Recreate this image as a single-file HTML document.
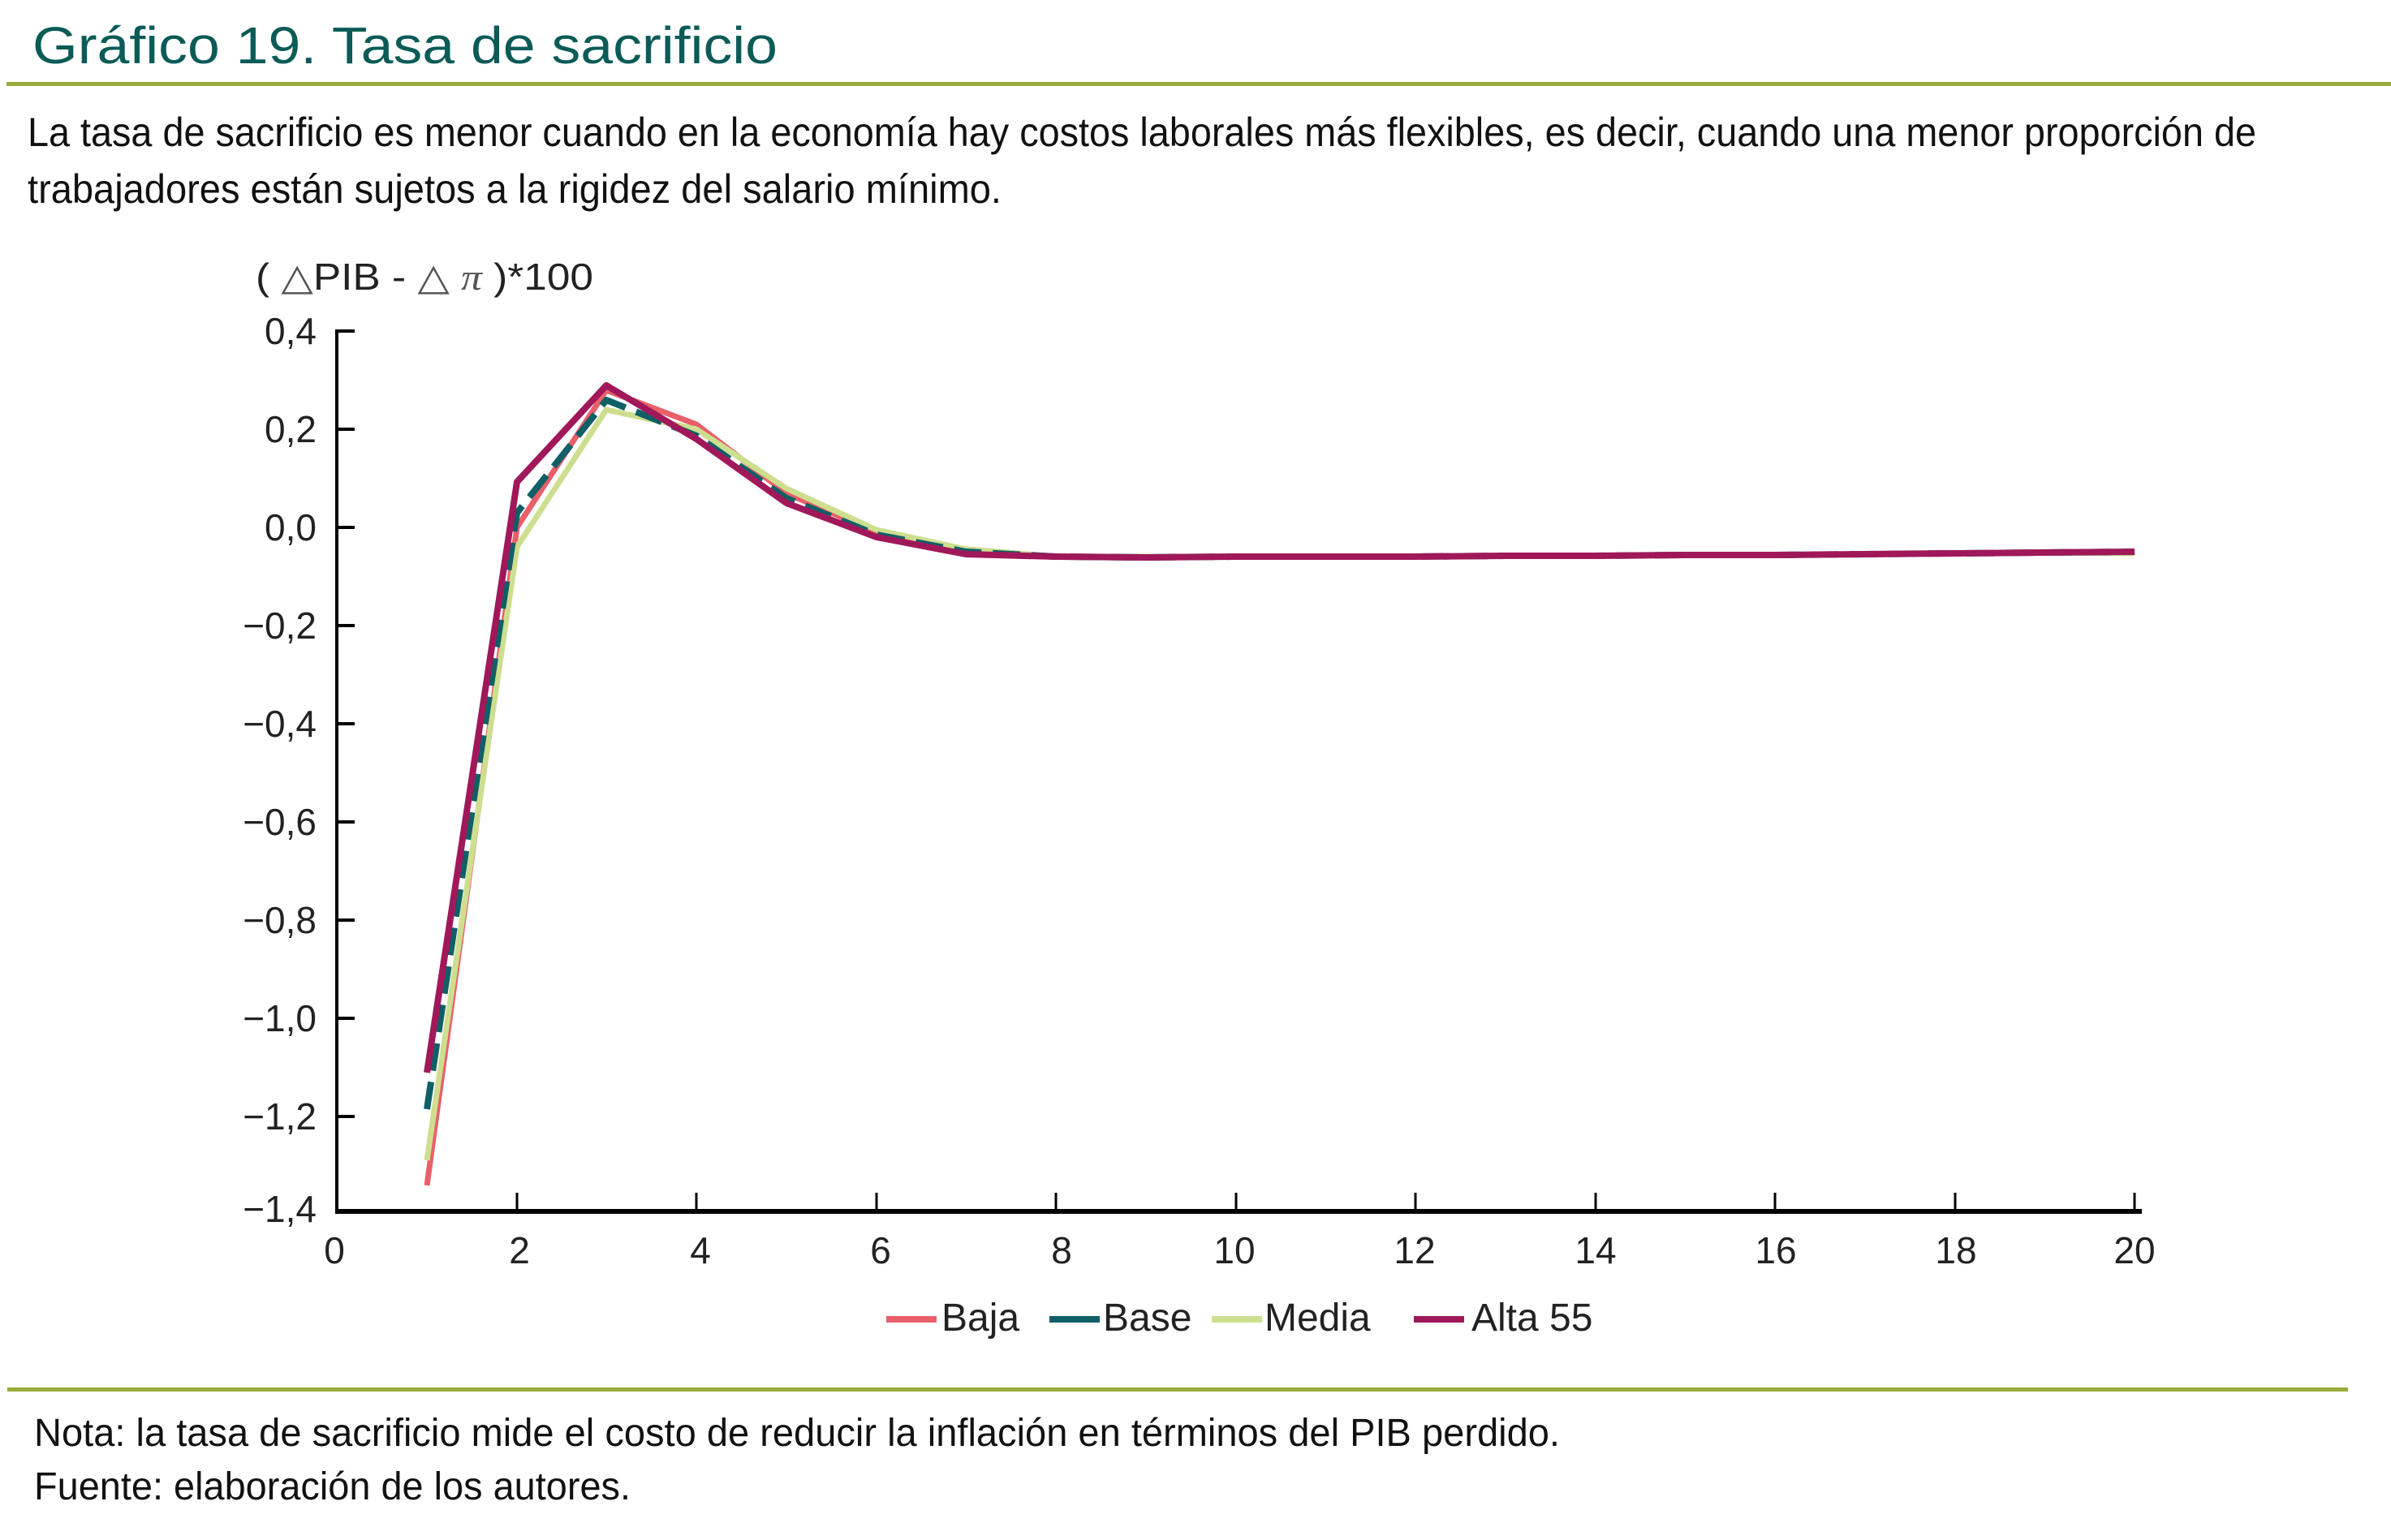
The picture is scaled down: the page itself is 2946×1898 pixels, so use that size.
<!DOCTYPE html>
<html><head><meta charset="utf-8"><style>
html,body{margin:0;padding:0;background:#fff;}
svg{display:block;}
text{font-family:"Liberation Sans Narrow","Liberation Sans",sans-serif;}
</style></head><body>
<svg width="2946" height="1898" viewBox="0 0 2946 1898" xmlns="http://www.w3.org/2000/svg">
<text x="40" y="78" font-size="64" fill="#0b5b57" textLength="918" lengthAdjust="spacingAndGlyphs">Gráfico 19. Tasa de sacrificio</text>
<rect x="8" y="101" width="2938" height="5" fill="#9aab3a"/>
<text x="34" y="180" font-size="50" fill="#111" textLength="2746" lengthAdjust="spacingAndGlyphs">La tasa de sacrificio es menor cuando en la economía hay costos laborales más flexibles, es decir, cuando una menor proporción de</text>
<text x="34" y="250" font-size="50" fill="#111" textLength="1200" lengthAdjust="spacingAndGlyphs">trabajadores están sujetos a la rigidez del salario mínimo.</text>
<text x="315" y="357" font-size="46" fill="#222" textLength="416" lengthAdjust="spacingAndGlyphs">( <tspan fill="#555">△</tspan>PIB - <tspan fill="#555">△</tspan> <tspan font-family="Liberation Serif" font-style="italic" fill="#555">π</tspan> )*100</text>
<g font-size="46" fill="#222" text-anchor="end">
<text x="390" y="424">0,4</text><text x="390" y="545">0,2</text><text x="390" y="666">0,0</text>
<text x="390" y="787">−0,2</text><text x="390" y="908">−0,4</text><text x="390" y="1029">−0,6</text>
<text x="390" y="1150">−0,8</text><text x="390" y="1271">−1,0</text><text x="390" y="1392">−1,2</text><text x="390" y="1506">−1,4</text>
</g>
<g stroke="#000" stroke-width="4">
<line x1="415" y1="406" x2="415" y2="1496"/>
<line x1="415" y1="408" x2="437" y2="408"/><line x1="415" y1="529" x2="437" y2="529"/>
<line x1="415" y1="650" x2="437" y2="650"/><line x1="415" y1="771" x2="437" y2="771"/>
<line x1="415" y1="892" x2="437" y2="892"/><line x1="415" y1="1013" x2="437" y2="1013"/>
<line x1="415" y1="1134" x2="437" y2="1134"/><line x1="415" y1="1255" x2="437" y2="1255"/>
<line x1="415" y1="1376" x2="437" y2="1376"/>
</g>
<rect x="413" y="1490" width="2226" height="6" fill="#000"/>
<g stroke="#000" stroke-width="3">
<line x1="637" y1="1470" x2="637" y2="1492"/><line x1="858" y1="1470" x2="858" y2="1492"/>
<line x1="1080" y1="1470" x2="1080" y2="1492"/><line x1="1301" y1="1470" x2="1301" y2="1492"/>
<line x1="1523" y1="1470" x2="1523" y2="1492"/><line x1="1744" y1="1470" x2="1744" y2="1492"/>
<line x1="1966" y1="1470" x2="1966" y2="1492"/><line x1="2187" y1="1470" x2="2187" y2="1492"/>
<line x1="2409" y1="1470" x2="2409" y2="1492"/><line x1="2630" y1="1470" x2="2630" y2="1492"/>
</g>
<g font-size="46" fill="#222" text-anchor="middle">
<text x="412" y="1557">0</text><text x="640" y="1557">2</text><text x="863" y="1557">4</text><text x="1085" y="1557">6</text>
<text x="1308" y="1557">8</text><text x="1521" y="1557">10</text><text x="1743" y="1557">12</text><text x="1966" y="1557">14</text>
<text x="2188" y="1557">16</text><text x="2410" y="1557">18</text><text x="2630" y="1557">20</text>
</g>
<g fill="none" stroke-linejoin="round">
<polyline stroke="#e95f6a" stroke-width="7" points="526,1461 637,650 747,481 858,523 969,608 1080,656 1190,677 1301,686 1412,686 1523,686 1633,686 1744,686 1855,685 1966,685 2076,684 2187,684 2298,683 2409,682 2519,681 2630,680"/>
<polyline stroke="#cddf8f" stroke-width="7" points="526,1430 637,674 747,505 858,529 969,602 1080,653 1190,677 1301,686 1412,686 1523,686 1633,686 1744,686 1855,685 1966,685 2076,684 2187,684 2298,683 2409,682 2519,681 2630,682"/>
<polyline stroke="#0f5f66" stroke-width="8" stroke-dasharray="34,14" points="526,1367 637,632 747,493 858,537 969,614 1080,659 1190,680 1301,686 1412,687 1523,686 1633,686 1744,686 1855,685 1966,685 2076,684 2187,684 2298,683 2409,682 2519,681 2630,680"/>
<polyline stroke="#a0185a" stroke-width="8" points="526,1322 637,594 747,475 858,541 969,620 1080,662 1190,683 1301,686 1412,687 1523,686 1633,686 1744,686 1855,685 1966,685 2076,684 2187,684 2298,683 2409,682 2519,681 2630,680"/>
</g>
<rect x="1092" y="1622" width="62" height="8" fill="#e95f6a"/>
<rect x="1293" y="1622" width="62" height="8" fill="#0f5f66"/>
<rect x="1493" y="1622" width="62" height="8" fill="#cddf8f"/>
<rect x="1742" y="1622" width="62" height="8" fill="#a0185a"/>
<g font-size="48" fill="#222">
<text x="1160" y="1640">Baja</text><text x="1359" y="1640">Base</text>
<text x="1558" y="1640">Media</text><text x="1813" y="1640">Alta 55</text>
</g>
<rect x="9" y="1710" width="2884" height="5" fill="#9aab3a"/>
<text x="42" y="1782" font-size="48" fill="#111" textLength="1880" lengthAdjust="spacingAndGlyphs">Nota: la tasa de sacrificio mide el costo de reducir la inflación en términos del PIB perdido.</text>
<text x="42" y="1848" font-size="48" fill="#111" textLength="735" lengthAdjust="spacingAndGlyphs">Fuente: elaboración de los autores.</text>
</svg>
</body></html>
